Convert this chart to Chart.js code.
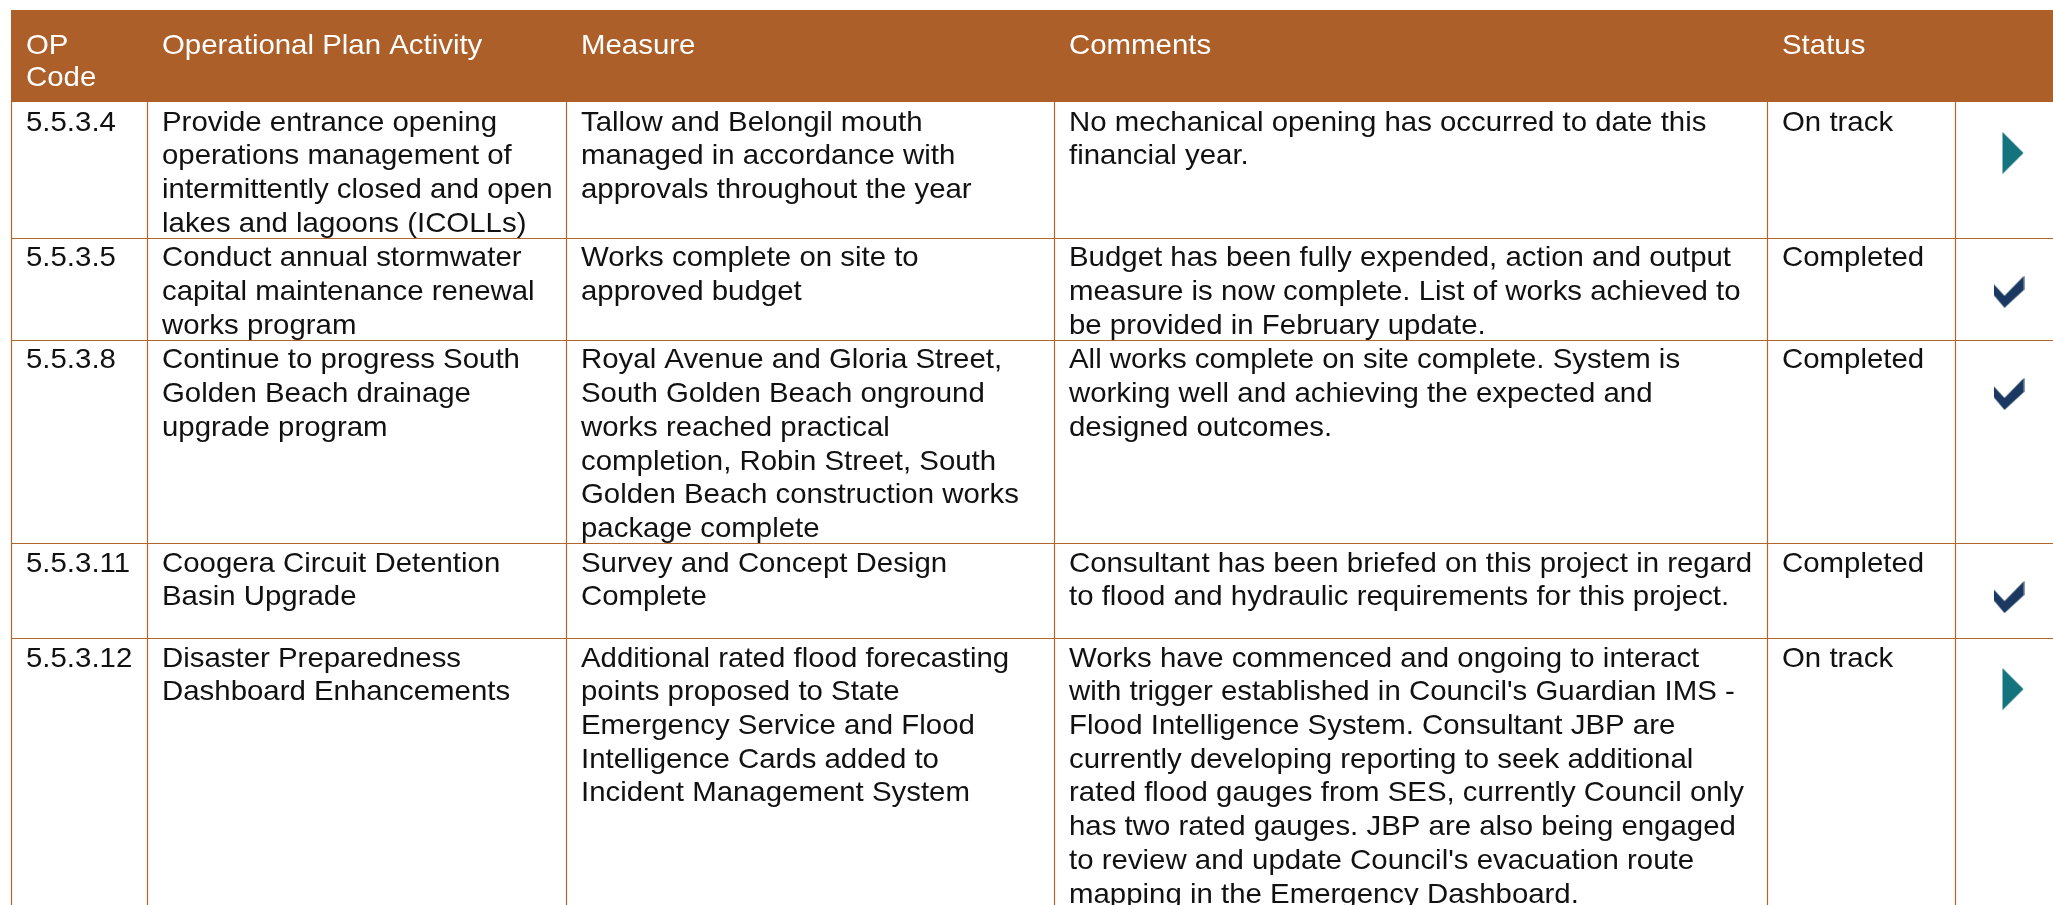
<!DOCTYPE html>
<html>
<head>
<meta charset="utf-8">
<script src="https://cdn.jsdelivr.net/npm/chart.js@4.4.1/dist/chart.umd.min.js"></script>
<style>
  html, body { margin: 0; padding: 0; background: #ffffff; }
  #wrap { width: 2053px; height: 905px; }
</style>
</head>
<body>
<div id="wrap"><canvas id="table" width="2053" height="905"></canvas></div>
<script>
// table content, one array per column
const headers = [['OP', 'Code'], ['Operational Plan Activity'], ['Measure'], ['Comments'], ['Status'], []];
const codes = ['5.5.3.4', '5.5.3.5', '5.5.3.8', '5.5.3.11', '5.5.3.12'];
const activities = [
    ['Provide entrance opening', 'operations management of', 'intermittently closed and open', 'lakes and lagoons (ICOLLs)'],
    ['Conduct annual stormwater', 'capital maintenance renewal', 'works program'],
    ['Continue to progress South', 'Golden Beach drainage', 'upgrade program'],
    ['Coogera Circuit Detention', 'Basin Upgrade'],
    ['Disaster Preparedness', 'Dashboard Enhancements']
];
const measures = [
    ['Tallow and Belongil mouth', 'managed in accordance with', 'approvals throughout the year'],
    ['Works complete on site to', 'approved budget'],
    ['Royal Avenue and Gloria Street,', 'South Golden Beach onground', 'works reached practical', 'completion, Robin Street, South', 'Golden Beach construction works', 'package complete'],
    ['Survey and Concept Design', 'Complete'],
    ['Additional rated flood forecasting', 'points proposed to State', 'Emergency Service and Flood', 'Intelligence Cards added to', 'Incident Management System']
];
const comments = [
    ['No mechanical opening has occurred to date this', 'financial year.'],
    ['Budget has been fully expended, action and output', 'measure is now complete. List of works achieved to', 'be provided in February update.'],
    ['All works complete on site complete. System is', 'working well and achieving the expected and', 'designed outcomes.'],
    ['Consultant has been briefed on this project in regard', 'to flood and hydraulic requirements for this project.'],
    ['Works have commenced and ongoing to interact', "with trigger established in Council's Guardian IMS -", 'Flood Intelligence System. Consultant JBP are', 'currently developing reporting to seek additional', 'rated flood gauges from SES, currently Council only', 'has two rated gauges. JBP are also being engaged', "to review and update Council's evacuation route", 'mapping in the Emergency Dashboard.']
];
const statuses = ['On track', 'Completed', 'Completed', 'Completed', 'On track'];

// layout
const W = 2053, H = 905;
const colEdges = [11, 147, 566, 1054, 1767, 1955, 2053];
const headTop = 10, headHeight = 92;
const lineH = 33.7;
const FONT = '28px "Liberation Sans", Arial, sans-serif';
const STRETCH = 1.05;
const HEAD_BG = '#ac5f29';
const RULE = '#b4652c';

const rows = codes.map((c, i) => [[c], activities[i], measures[i], comments[i], [statuses[i]]]);
const rowHeights = rows.map(r => Math.max(Math.max(...r.map(cell => cell.length)) * lineH + 1, 95));
const rowTops = [];
let acc = headTop + headHeight;
rowHeights.forEach(h => { rowTops.push(acc); acc += h; });

function makeArrow() {
    const c = document.createElement('canvas');
    c.width = 22; c.height = 43;
    const g = c.getContext('2d');
    g.fillStyle = '#14747d';
    g.beginPath();
    g.moveTo(0.5, 0.5); g.lineTo(21.5, 21.5); g.lineTo(0.5, 42.5);
    g.closePath(); g.fill();
    return c;
}
function makeCheck() {
    const c = document.createElement('canvas');
    c.width = 31; c.height = 32;
    const g = c.getContext('2d');
    g.fillStyle = '#1b3960';
    g.beginPath();
    g.moveTo(0, 8); g.lineTo(11, 20); g.lineTo(30.5, 0); g.lineTo(30.5, 14);
    g.lineTo(11, 32); g.lineTo(0, 19);
    g.closePath(); g.fill();
    return c;
}
const arrowIcon = makeArrow();
const checkIcon = makeCheck();

const iconX = (colEdges[5] + colEdges[6]) / 2 + 8;
const iconPoints = statuses.map((s, i) => ({
    x: s === 'On track' ? iconX + 1 : iconX - 3,
    y: rowTops[i] + (s === 'On track' ? 51 : 54)
}));

function drawText(ctx, t, x, y) {
    ctx.save();
    ctx.translate(x, y);
    ctx.scale(STRETCH, 1);
    ctx.fillText(t, 0, 0);
    ctx.restore();
}

const tablePlugin = {
    id: 'tablePlugin',
    beforeDatasetsDraw(chart) {
        const { ctx, scales: { x, y } } = chart;
        const px = v => x.getPixelForValue(v);
        const py = v => y.getPixelForValue(v);
        ctx.save();
        // header band
        ctx.fillStyle = HEAD_BG;
        ctx.fillRect(px(colEdges[0]), py(headTop), px(W) - px(colEdges[0]), py(headTop + headHeight) - py(headTop));
        ctx.font = FONT;
        ctx.textBaseline = 'alphabetic';
        ctx.fillStyle = '#ffffff';
        headers.forEach((lines, ci) => {
            lines.forEach((t, li) => drawText(ctx, t, px(colEdges[ci] + 15), py(headTop + 44 + li * 32)));
        });
        // rules
        ctx.strokeStyle = RULE;
        ctx.lineWidth = 1.2;
        ctx.beginPath();
        rowTops.forEach((t, i) => {
            if (i === 0) return;
            ctx.moveTo(px(colEdges[0]), Math.round(py(t)) + 0.5);
            ctx.lineTo(px(W), Math.round(py(t)) + 0.5);
        });
        colEdges.slice(0, 6).forEach(e => {
            ctx.moveTo(Math.round(px(e)) + 0.5, py(headTop + headHeight));
            ctx.lineTo(Math.round(px(e)) + 0.5, py(H));
        });
        ctx.stroke();
        // body text
        ctx.fillStyle = '#111111';
        rows.forEach((cells, ri) => {
            cells.forEach((lines, ci) => {
                lines.forEach((t, li) => drawText(ctx, t, px(colEdges[ci] + 15), py(rowTops[ri] + 28.5 + li * lineH)));
            });
        });
        ctx.restore();
    }
};

new Chart(document.getElementById('table'), {
    type: 'scatter',
    data: {
        datasets: [{
            label: 'Status',
            data: iconPoints,
            pointStyle: statuses.map(s => s === 'On track' ? arrowIcon : checkIcon),
            pointRadius: 10,
            pointHoverRadius: 10,
            clip: false
        }]
    },
    options: {
        responsive: false,
        animation: false,
        events: [],
        layout: { padding: 0, autoPadding: false },
        plugins: { legend: { display: false }, tooltip: { enabled: false } },
        scales: {
            x: { type: 'linear', min: 0, max: W, display: false },
            y: { type: 'linear', min: 0, max: H, reverse: true, display: false }
        }
    },
    plugins: [tablePlugin]
});
</script>
</body>
</html>
